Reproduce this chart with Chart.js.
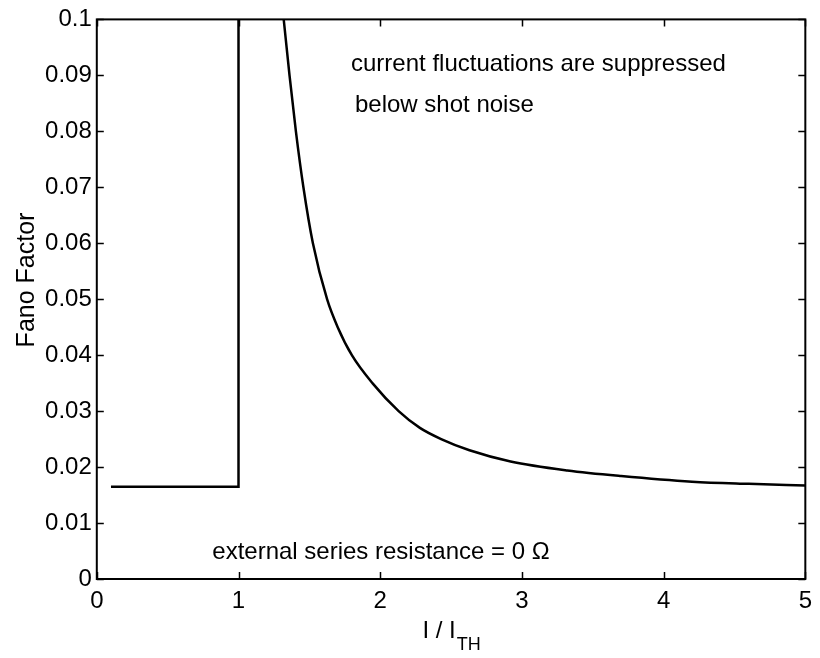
<!DOCTYPE html>
<html>
<head>
<meta charset="utf-8">
<script src="https://cdn.jsdelivr.net/npm/chart.js@4"></script>
<style>
  body { margin: 0; background: #fff; }
  canvas { display: block; }
</style>
</head>
<body>
<canvas id="fano" width="820" height="658"></canvas>
<script>
// flat part below threshold, then vertical jump at I/Ith = 1
const stepX = [0.1, 1, 1];
const stepY = [0.0165, 0.0165, 0.1];

// decaying branch above threshold
const curveX = [1.319, 1.36, 1.405, 1.458, 1.525, 1.625, 1.70, 1.80, 1.945, 2.13, 2.28, 2.43, 2.63, 2.92, 3.32, 3.7, 4.2, 4.6, 5.0];
const curveY = [0.1, 0.09, 0.08, 0.07, 0.06, 0.05, 0.045, 0.04, 0.035, 0.03, 0.027, 0.025, 0.023, 0.021, 0.0194, 0.0184, 0.0174, 0.017, 0.0167];

const xTicks = [0, 1, 2, 3, 4, 5];
const xTickLabels = ['0', '1', '2', '3', '4', '5'];
const yTicks = [0, 0.01, 0.02, 0.03, 0.04, 0.05, 0.06, 0.07, 0.08, 0.09, 0.1];
const yTickLabels = ['0', '0.01', '0.02', '0.03', '0.04', '0.05', '0.06', '0.07', '0.08', '0.09', '0.1'];

const notes = [
  { text: 'current fluctuations are suppressed', x: 1.794, y: 0.0908 },
  { text: 'below shot noise', x: 1.822, y: 0.0834 },
  { text: 'external series resistance = 0 \u03A9', x: 0.815, y: 0.0036 }
];

const FONT = '"Liberation Sans", Arial, Helvetica, sans-serif';

const toPoints = (xs, ys) => xs.map((x, i) => ({ x: x, y: ys[i] }));

// matlab style box with inward ticks on all four sides, plus the text
const matlabBox = {
  id: 'matlabBox',
  afterDatasetsDraw(chart) {
    const { ctx, chartArea: a, scales } = chart;
    const len = 7;
    ctx.save();
    ctx.strokeStyle = '#000';
    ctx.lineWidth = 1.5;
    ctx.beginPath();
    xTicks.forEach(v => {
      const px = Math.round(scales.x.getPixelForValue(v)) + 0.5;
      ctx.moveTo(px, a.bottom); ctx.lineTo(px, a.bottom - len);
      ctx.moveTo(px, a.top); ctx.lineTo(px, a.top + len);
    });
    yTicks.forEach(v => {
      const py = Math.round(scales.y.getPixelForValue(v)) + 0.5;
      ctx.moveTo(a.left, py); ctx.lineTo(a.left + len, py);
      ctx.moveTo(a.right, py); ctx.lineTo(a.right - len, py);
    });
    ctx.stroke();
    ctx.lineWidth = 2;
    ctx.strokeRect(a.left, a.top, a.right - a.left, a.bottom - a.top);

    ctx.fillStyle = '#000';
    ctx.textBaseline = 'alphabetic';
    ctx.textAlign = 'left';
    ctx.font = '24px ' + FONT;
    notes.forEach(n => {
      ctx.fillText(n.text, scales.x.getPixelForValue(n.x), scales.y.getPixelForValue(n.y));
    });

    // x axis title with subscript
    const main = 'I / I', sub = 'TH';
    ctx.font = '24px ' + FONT;
    const w1 = ctx.measureText(main).width;
    ctx.font = '18px ' + FONT;
    const w2 = ctx.measureText(sub).width;
    const cx = (a.left + a.right) / 2;
    const x0 = cx - (w1 + w2) / 2;
    ctx.font = '24px ' + FONT;
    ctx.fillText(main, x0, 638);
    ctx.font = '18px ' + FONT;
    ctx.fillText(sub, x0 + w1 + 1, 650);

    // y axis title
    ctx.translate(34, 280);
    ctx.rotate(-Math.PI / 2);
    ctx.textAlign = 'center';
    ctx.font = '25px ' + FONT;
    ctx.fillText('Fano Factor', 0, 0);
    ctx.restore();
  }
};

new Chart(document.getElementById('fano'), {
  type: 'line',
  data: {
    datasets: [
      {
        data: toPoints(stepX, stepY),
        borderColor: '#000',
        borderWidth: 2.5,
        pointRadius: 0,
        tension: 0
      },
      {
        data: toPoints(curveX, curveY),
        borderColor: '#000',
        borderWidth: 2.5,
        pointRadius: 0,
        cubicInterpolationMode: 'monotone'
      }
    ]
  },
  options: {
    responsive: false,
    animation: false,
    layout: { padding: { top: 18.5, right: 10, left: 0, bottom: 0 } },
    plugins: { legend: { display: false }, tooltip: { enabled: false } },
    scales: {
      x: {
        type: 'linear',
        min: 0,
        max: 5,
        afterBuildTicks: s => { s.ticks = xTicks.map(v => ({ value: v })); },
        afterFit: s => { s.height = 79; },
        grid: { display: false, drawTicks: false },
        border: { display: false },
        ticks: {
          color: '#000',
          padding: 8,
          font: { family: FONT, size: 24 },
          callback: (v, i) => xTickLabels[i]
        }
      },
      y: {
        type: 'linear',
        min: 0,
        max: 0.1,
        afterBuildTicks: s => { s.ticks = yTicks.map(v => ({ value: v })); },
        afterFit: s => { s.width = 96.8; },
        grid: { display: false, drawTicks: false },
        border: { display: false },
        ticks: {
          color: '#000',
          padding: 5,
          font: { family: FONT, size: 24 },
          callback: (v, i) => yTickLabels[i]
        }
      }
    }
  },
  plugins: [matlabBox]
});
</script>
</body>
</html>
